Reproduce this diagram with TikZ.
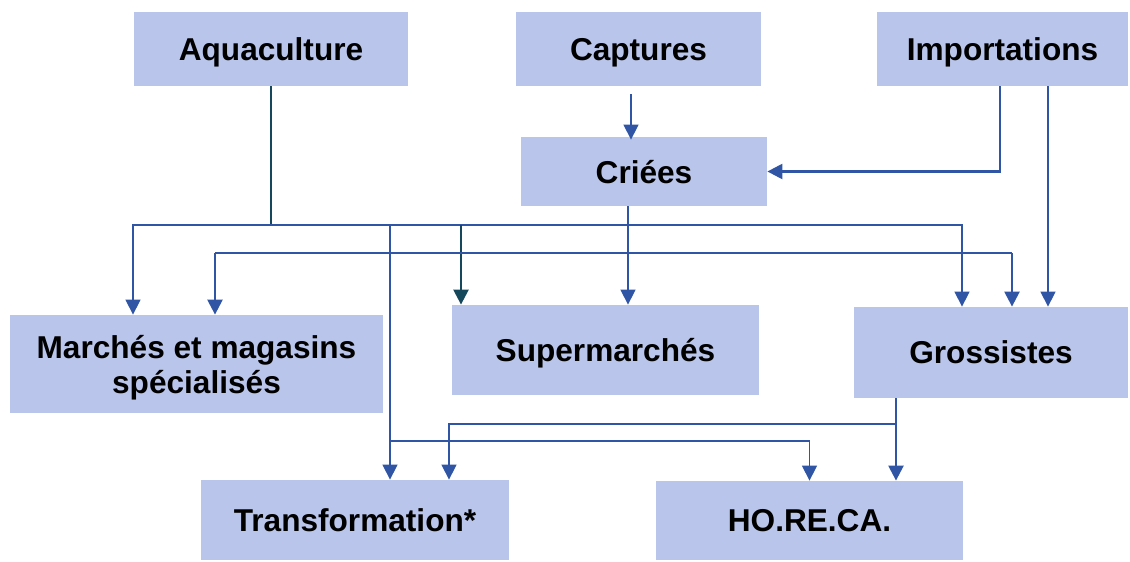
\documentclass[tikz,border=0pt]{standalone}
\usepackage{fontspec}
\setmainfont{Liberation Sans}
\usetikzlibrary{arrows.meta}
\definecolor{boxblue}{RGB}{185,197,234}
\definecolor{lineblue}{RGB}{47,85,164}
\definecolor{darkteal}{RGB}{22,72,92}
\begin{document}
\begin{tikzpicture}[x=0.5pt,y=-0.5pt,>={Triangle[width=7.5pt,length=7.5pt]},
		box/.style={rectangle,fill=boxblue,inner sep=2pt,text depth=0pt,align=center,font=\fontsize{15.8}{17.5}\selectfont\bfseries},
		link/.style={draw=lineblue,line width=0.7pt},
		heavy/.style={draw=lineblue,line width=1.2pt},
		darklink/.style={draw=darkteal,line width=0.7pt},
		darkheavy/.style={draw=darkteal,line width=1.2pt}]
		\useasboundingbox (0,0) rectangle (1130,562);
		\node[box,minimum width=137pt,minimum height=37pt]      (aqua)    at (271,49)     {Aquaculture};
		\node[box,minimum width=122.5pt,minimum height=37pt]    (capt)    at (638.5,49)   {Captures};
		\node[box,minimum width=125.5pt,minimum height=37pt]    (imp)     at (1002.5,49)  {Importations};
		\node[box,minimum width=123pt,minimum height=34.5pt]    (criees)  at (644,171.5)  {Criées};
		\node[box,minimum width=186.5pt,minimum height=49pt]    (marches) at (196.5,364)  {Marchés et magasins\\spécialisés};
		\node[box,minimum width=153.5pt,minimum height=45pt]    (super)   at (605.5,350)  {Supermarchés};
		\node[box,minimum width=137pt,minimum height=45.5pt]    (gross)   at (991,352.5)  {Grossistes};
		\node[box,minimum width=154pt,minimum height=40pt]      (transf)  at (355,520)    {Transformation*};
		\node[box,minimum width=153.5pt,minimum height=39.5pt]  (horeca)  at (809.5,520.5) {HO.RE.CA.};
		
		\coordinate (aqJ) at (271,225);
		\coordinate (aqL) at (133,225);
		\coordinate (aqT) at (390,225);
		\coordinate (aqS) at (461,225);
		\coordinate (aqG) at (962,225);
		\coordinate (crS) at (628,253);
		\coordinate (crL) at (215,253);
		\coordinate (crG) at (1012,253);
		\coordinate (tfH) at (390,441);
		\coordinate (grH) at (896,424);
		\coordinate (grT) at (449,424);
		\coordinate (caC) at (631,94);
		\coordinate (imC) at (1000,172);
		\coordinate (imG) at (1048,172);
		
		\draw[darklink] (aqua.south) -- (aqJ);
		\draw[link,->] (aqJ) -| (marches.north -| aqL);
		\draw[link,->] (aqJ) -| (gross.north -| aqG);
		\draw[link,->] (aqT) -- (transf.north -| aqT);
		\draw[darkheavy,->] (aqS) -- (super.north -| aqS);
		\draw[link,->] (tfH) -| (horeca.north);
		
		\draw[link,->] (caC) -- ([yshift=-1.5pt]criees.north -| caC);
		\draw[heavy,->] (imp.south -| imC) |- (criees.east);
		\draw[link,->] (imp.south -| imG) -- (gross.north -| imG);
		
		\draw[link,->] (criees.south -| crS) -- (super.north -| crS);
		\draw[link] (crL) -- (crG);
		\draw[heavy,->] (crL) -- (marches.north -| crL);
		\draw[heavy,->] (crG) -- (gross.north -| crG);
		
		\draw[heavy,->] (gross.south -| grH) -- (horeca.north -| grH);
		\draw[link,->] (grH) -| (transf.north -| grT);
\end{tikzpicture}
\end{document}
